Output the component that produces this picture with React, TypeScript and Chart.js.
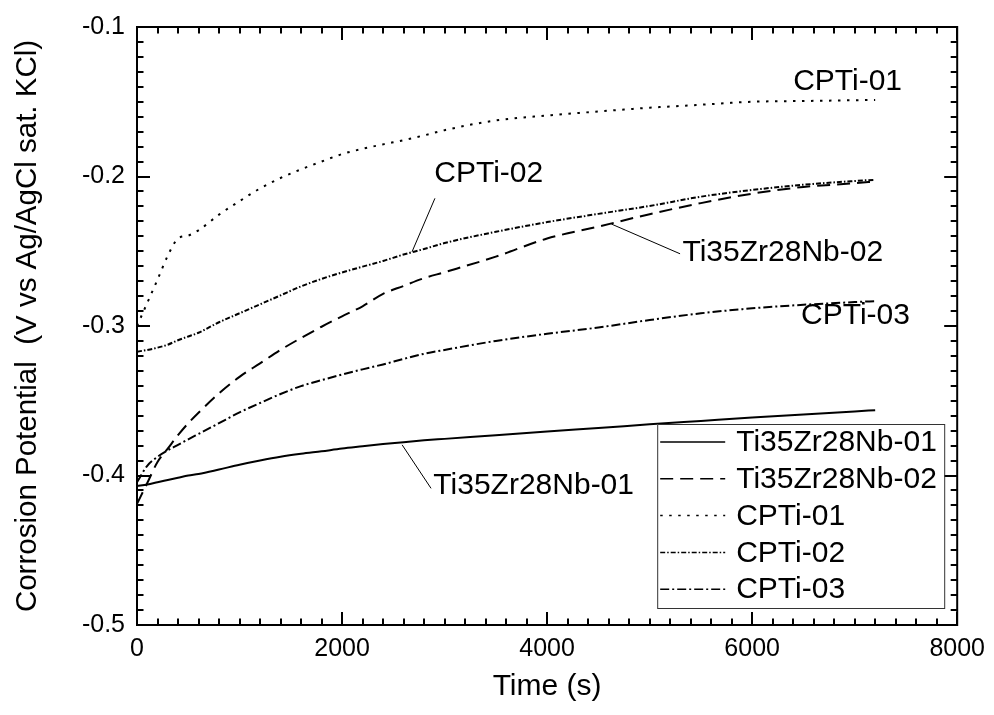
import React, { useEffect, useRef } from "react";
import { Chart, registerables } from "chart.js";

Chart.register(...registerables);

const FONT = "'Liberation Sans', Arial, Helvetica, sans-serif";

// time axis (s)
const timeS = [0, 100, 200, 300, 400, 500, 600, 800, 1000, 1200, 1400, 1600, 1800, 2000, 2200, 2400, 2600, 2800, 3000, 3500, 4000, 4500, 5000, 5500, 6000, 6500, 7000, 7200];

// corrosion potential (V vs Ag/AgCl sat. KCl)
const ti01 = [-0.407, -0.406, -0.4045, -0.403, -0.4015, -0.4, -0.399, -0.396, -0.3928, -0.39, -0.3875, -0.3855, -0.3838, -0.382, -0.3805, -0.379, -0.3777, -0.3765, -0.3755, -0.373, -0.3705, -0.3682, -0.3658, -0.3635, -0.3612, -0.3592, -0.3572, -0.3563];
const ti02 = [-0.419, -0.405, -0.391, -0.382, -0.373, -0.365, -0.358, -0.345, -0.334, -0.325, -0.316, -0.308, -0.3005, -0.2935, -0.2868, -0.2785, -0.2732, -0.268, -0.264, -0.2536, -0.2415, -0.2335, -0.2252, -0.2178, -0.2115, -0.207, -0.2045, -0.2033];
const cpti01 = [-0.3, -0.2845, -0.269, -0.253, -0.2415, -0.2395, -0.236, -0.2255, -0.2165, -0.208, -0.201, -0.1952, -0.19, -0.185, -0.1815, -0.1785, -0.1757, -0.1725, -0.169, -0.1625, -0.1592, -0.1565, -0.154, -0.152, -0.15, -0.1495, -0.149, -0.1488];
const cpti02 = [-0.3172, -0.316, -0.3145, -0.3125, -0.3095, -0.307, -0.3045, -0.2975, -0.2915, -0.2855, -0.2795, -0.2735, -0.2685, -0.2642, -0.2603, -0.2565, -0.2522, -0.2485, -0.2445, -0.237, -0.2305, -0.225, -0.2197, -0.2135, -0.209, -0.2055, -0.203, -0.2022];
const cpti03 = [-0.4045, -0.3935, -0.3875, -0.3832, -0.3795, -0.3758, -0.3722, -0.365, -0.3578, -0.3515, -0.3455, -0.3402, -0.3362, -0.3325, -0.329, -0.3257, -0.322, -0.3186, -0.316, -0.31, -0.3052, -0.301, -0.296, -0.2915, -0.2882, -0.2858, -0.284, -0.2834];

const seriesNames = ["Ti35Zr28Nb-01", "Ti35Zr28Nb-02", "CPTi-01", "CPTi-02", "CPTi-03"];
const seriesValues = [ti01, ti02, cpti01, cpti02, cpti03];
const seriesDash: number[][] = [[], [13, 7], [2.5, 6.5], [5, 2, 1.5, 2], [9, 3, 2, 3]];

const xTickValues = [0, 2000, 4000, 6000, 8000];
const yTickValues = [-0.5, -0.4, -0.3, -0.2, -0.1];

const xTitle = "Time (s)";
const yTitle = "Corrosion Potential  (V vs Ag/AgCl sat. KCl)";

// in-plot labels (data coordinates), optional leader line
const annotations = [
  { text: "CPTi-01", x: 6931, y: -0.1364 },
  { text: "CPTi-02", x: 3431, y: -0.198, line: [2906, -0.2146, 2683, -0.2503] },
  { text: "Ti35Zr28Nb-02", x: 6299, y: -0.2507, line: [5297, -0.2517, 4627, -0.2318] },
  { text: "CPTi-03", x: 7008, y: -0.2934 },
  { text: "Ti35Zr28Nb-01", x: 3869, y: -0.4066, line: [2868, -0.4086, 2586, -0.3795] },
];

const framePlugin = {
  id: "frameTicksLegend",
  afterDraw(chart: any) {
    const { ctx, chartArea } = chart;
    const xs = chart.scales.x;
    const ys = chart.scales.y;
    const { left, right, top, bottom } = chartArea;
    ctx.save();
    ctx.setLineDash([]);
    ctx.strokeStyle = "#000";

    // ticks
    const major = 13;
    const minor = 6.5;
    ctx.lineWidth = 2;
    for (let v = 0; v <= 8000; v += 200) {
      const px = Math.round(xs.getPixelForValue(v));
      const len = v % 2000 === 0 ? major : minor;
      ctx.beginPath();
      ctx.moveTo(px, bottom);
      ctx.lineTo(px, bottom - len);
      ctx.moveTo(px, top);
      ctx.lineTo(px, top + len);
      ctx.stroke();
    }
    for (let i = 0; i <= 40; i++) {
      const v = -0.5 + i * 0.01;
      const py = Math.round(ys.getPixelForValue(v));
      const len = i % 10 === 0 ? major : minor;
      ctx.beginPath();
      ctx.moveTo(left, py);
      ctx.lineTo(left + len, py);
      ctx.moveTo(right, py);
      ctx.lineTo(right - len, py);
      ctx.stroke();
    }
    // frame
    ctx.lineWidth = 2;
    ctx.strokeRect(left, top, right - left, bottom - top);

    // annotations
    ctx.fillStyle = "#000";
    ctx.font = `30px ${FONT}`;
    ctx.textAlign = "center";
    ctx.textBaseline = "middle";
    ctx.lineWidth = 1;
    for (const a of annotations) {
      ctx.fillText(a.text, xs.getPixelForValue(a.x), ys.getPixelForValue(a.y));
      if (a.line) {
        ctx.beginPath();
        ctx.moveTo(xs.getPixelForValue(a.line[0]), ys.getPixelForValue(a.line[1]));
        ctx.lineTo(xs.getPixelForValue(a.line[2]), ys.getPixelForValue(a.line[3]));
        ctx.stroke();
      }
    }

    // legend
    const bw = 287;
    const bh = 184;
    const bx = right - 13 - bw;
    const by = bottom - 17 - bh;
    ctx.fillStyle = "#fff";
    ctx.fillRect(bx, by, bw, bh);
    ctx.strokeStyle = "#333";
    ctx.lineWidth = 1;
    ctx.strokeRect(bx + 0.5, by + 0.5, bw, bh);
    ctx.textAlign = "left";
    ctx.fillStyle = "#000";
    ctx.strokeStyle = "#000";
    seriesNames.forEach((name, i) => {
      const ry = by + 18 + i * 36.8;
      ctx.setLineDash(seriesDash[i]);
      ctx.lineWidth = 1.5;
      ctx.beginPath();
      ctx.moveTo(bx + 3, ry);
      ctx.lineTo(bx + 68, ry);
      ctx.stroke();
      ctx.setLineDash([]);
      ctx.fillText(name, bx + 79, ry + 1);
    });
    ctx.restore();
  },
};

export default function App() {
  const ref = useRef<HTMLCanvasElement>(null);

  useEffect(() => {
    if (!ref.current) return;
    const datasets = seriesNames.map((name, i) => ({
      label: name,
      data: timeS.map((t, j) => ({ x: t, y: seriesValues[i][j] })),
      borderColor: "#000",
      backgroundColor: "#000",
      borderWidth: 2,
      borderDash: seriesDash[i],
      borderCapStyle: "butt" as const,
      pointRadius: 0,
      fill: false,
      cubicInterpolationMode: "monotone" as const,
    }));
    const chart = new Chart(ref.current, {
      type: "line",
      data: { datasets },
      options: {
        responsive: false,
        animation: false,
        layout: { padding: { top: 21, right: 34, left: 0, bottom: 0 } },
        plugins: {
          legend: { display: false },
          tooltip: { enabled: false },
        },
        scales: {
          x: {
            type: "linear",
            min: 0,
            max: 8000,
            afterFit: (s: any) => {
              s.height = 90;
            },
            afterBuildTicks: (s: any) => {
              s.ticks = xTickValues.map((v) => ({ value: v }));
            },
            grid: { display: false, drawTicks: false },
            border: { display: false },
            ticks: {
              padding: 9,
              color: "#000",
              maxRotation: 0,
              font: { size: 25, family: FONT },
              callback: (v: any) => String(v),
            },
            title: {
              display: true,
              text: xTitle,
              color: "#000",
              font: { size: 30, family: FONT },
              padding: { top: 0, bottom: 10 },
            },
          },
          y: {
            type: "linear",
            min: -0.5,
            max: -0.1,
            afterFit: (s: any) => {
              s.width = 137;
            },
            afterBuildTicks: (s: any) => {
              s.ticks = yTickValues.map((v) => ({ value: v }));
            },
            grid: { display: false, drawTicks: false },
            border: { display: false },
            ticks: {
              padding: 12,
              color: "#000",
              font: { size: 25, family: FONT },
              callback: (v: any) => Number(v).toFixed(1),
            },
            title: {
              display: true,
              text: yTitle,
              color: "#000",
              font: { size: 29.5, family: FONT },
              padding: { top: 10, bottom: 0 },
            },
          },
        },
      },
      plugins: [framePlugin],
    });
    return () => chart.destroy();
  }, []);

  return (
    <div style={{ position: "absolute", left: 0, top: 0, width: 994, height: 715, background: "#fff" }}>
      <canvas ref={ref} width={994} height={715} style={{ display: "block" }} />
    </div>
  );
}
